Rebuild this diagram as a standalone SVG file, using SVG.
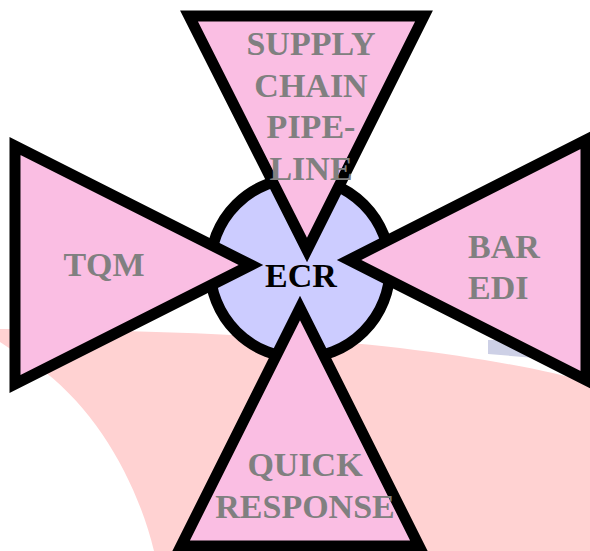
<svg xmlns="http://www.w3.org/2000/svg" width="590" height="551" viewBox="0 0 590 551">
<style>
.tri{fill:#FABEE3;stroke:#000;stroke-width:11;stroke-linejoin:miter}
.hub{fill:#CCCCFF;stroke:#000;stroke-width:11}
.lbl{font-family:"Liberation Serif","Times New Roman",serif;font-weight:bold;font-size:34px;fill:#808080;text-anchor:middle}
.ecr{font-family:"Liberation Serif","Times New Roman",serif;font-weight:bold;font-size:34px;fill:#000;text-anchor:middle}
</style>
<rect width="590" height="551" fill="#fff"/>
<g id="background">
<path d="M0,329 C150,330 300,336 400,348 C480,358 550,370 590,383 L590,551 L154,551 C138,485 100,415 45,372 L0,342 Z" fill="#FFD2D2"/>
<polygon points="488,340 488,354 535,358 535,340" fill="#CDD0E6"/>
</g>
<g id="ecr">
<circle cx="300" cy="268" r="90" class="hub"/>
</g>
<g id="supply-chain">
<polygon class="tri" points="189,16 424,16 307,250"/>
<text class="lbl" x="311" y="55">SUPPLY</text>
<text class="lbl" x="311" y="97">CHAIN</text>
<text class="lbl" x="311" y="138">PIPE-</text>
<text class="lbl" x="311" y="180">LINE</text>
</g>
<g id="tqm">
<polygon class="tri" points="15,146 15,384 251,265"/>
<text class="lbl" x="104" y="276">TQM</text>
</g>
<g id="bar-edi">
<polygon class="tri" points="586,140 586,380 349,260"/>
<text class="lbl" x="468" y="258" style="text-anchor:start">BAR</text>
<text class="lbl" x="468" y="299" style="text-anchor:start">EDI</text>
</g>
<g id="quick-response">
<polygon class="tri" points="181,546 419,546 300,308"/>
<text class="lbl" x="305" y="476">QUICK</text>
<text class="lbl" x="305" y="518">RESPONSE</text>
</g>
<text class="ecr" x="301" y="287">ECR</text>
<g id="connectors"/>
</svg>
